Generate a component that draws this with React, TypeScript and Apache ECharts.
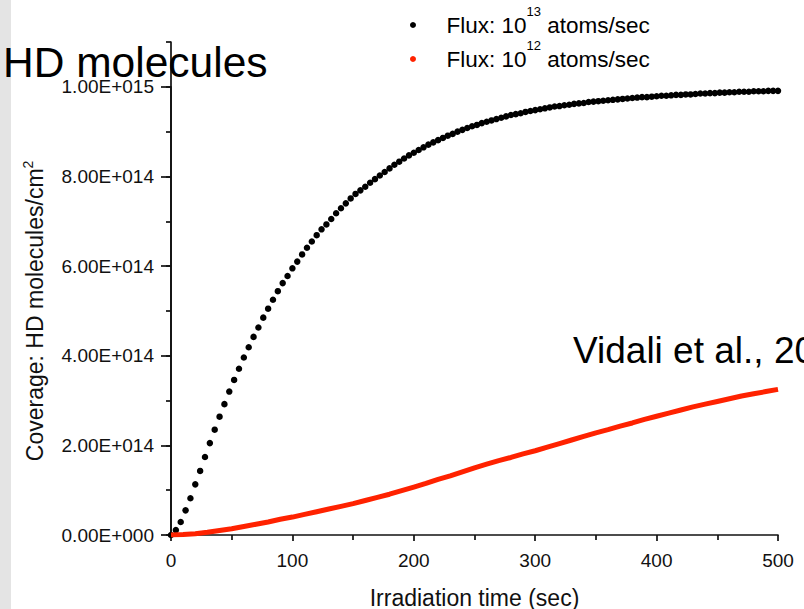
import React, { useEffect, useRef } from 'react';
import * as echarts from 'echarts';

// Units: coverage in 1e14 HD molecules/cm^2, time in seconds
const UNIT = 1e14;

const blackTime = [
  0, 4, 8, 12, 16, 20, 24, 28, 32, 36,
  40, 44, 48, 52, 56, 60, 64, 68, 72, 76,
  80, 84, 88, 92, 96, 100, 104, 108, 112, 116,
  120, 124, 128, 132, 136, 140, 144, 148, 152, 156,
  160, 164, 168, 172, 176, 180, 184, 188, 192, 196,
  200, 204, 208, 212, 216, 220, 224, 228, 232, 236,
  240, 244, 248, 252, 256, 260, 264, 268, 272, 276,
  280, 284, 288, 292, 296, 300, 304, 308, 312, 316,
  320, 324, 328, 332, 336, 340, 344, 348, 352, 356,
  360, 364, 368, 372, 376, 380, 384, 388, 392, 396,
  400, 404, 408, 412, 416, 420, 424, 428, 432, 436,
  440, 444, 448, 452, 456, 460, 464, 468, 472, 476,
  480, 484, 488, 492, 496, 500,
];

const blackCoverage = [
  0, 0.11, 0.29, 0.55, 0.82, 1.13, 1.43, 1.74, 2.05, 2.35,
  2.64, 2.92, 3.2, 3.46, 3.71, 3.96, 4.19, 4.42, 4.63, 4.85,
  5.05, 5.25, 5.44, 5.62, 5.78, 5.95, 6.1, 6.26, 6.41, 6.55,
  6.69, 6.82, 6.93, 7.05, 7.18, 7.29, 7.4, 7.51, 7.61, 7.69,
  7.77, 7.86, 7.94, 8.02, 8.1, 8.18, 8.26, 8.33, 8.4, 8.47,
  8.53, 8.59, 8.65, 8.71, 8.76, 8.81, 8.86, 8.91, 8.95, 9.0,
  9.04, 9.08, 9.12, 9.15, 9.19, 9.22, 9.25, 9.28, 9.31, 9.34,
  9.37, 9.39, 9.41, 9.44, 9.46, 9.48, 9.5, 9.52, 9.54, 9.56,
  9.57, 9.59, 9.6, 9.62, 9.63, 9.64, 9.66, 9.67, 9.68, 9.69,
  9.7, 9.71, 9.72, 9.73, 9.74, 9.75, 9.76, 9.77, 9.77, 9.78,
  9.79, 9.8, 9.8, 9.81, 9.82, 9.82, 9.83, 9.83, 9.84, 9.85,
  9.85, 9.86, 9.86, 9.87, 9.87, 9.88, 9.88, 9.89, 9.89, 9.89,
  9.9, 9.9, 9.9, 9.91, 9.91, 9.91,
];

const redTime = [
  0, 10, 20, 30, 40, 50, 60, 70, 80, 90,
  100, 110, 120, 130, 140, 150, 160, 170, 180, 190,
  200, 210, 220, 230, 240, 250, 260, 270, 280, 290,
  300, 310, 320, 330, 340, 350, 360, 370, 380, 390,
  400, 410, 420, 430, 440, 450, 460, 470, 480, 490, 500,
];

const redCoverage = [
  0, 0.01, 0.03, 0.06, 0.1, 0.14, 0.19, 0.24, 0.29, 0.35,
  0.4, 0.46, 0.52, 0.58, 0.64, 0.7, 0.77, 0.84, 0.91, 0.99,
  1.07, 1.15, 1.24, 1.32, 1.41, 1.5, 1.58, 1.66, 1.73, 1.81,
  1.88, 1.96, 2.04, 2.12, 2.2, 2.28, 2.35, 2.43, 2.5, 2.58,
  2.65, 2.72, 2.79, 2.86, 2.92, 2.98, 3.04, 3.1, 3.15, 3.2, 3.25,
];

const SERIES_13 = 'Flux: 10^13 atoms/sec';
const SERIES_12 = 'Flux: 10^12 atoms/sec';
const legendLabels: Record<string, string> = {
  [SERIES_13]: '{n|Flux: 10}{s|13}{n| atoms/sec}',
  [SERIES_12]: '{n|Flux: 10}{s|12}{n| atoms/sec}',
};

const TITLE = 'HD molecules';
const CITATION = 'Vidali et al., 20';
const X_NAME = 'Irradiation time (sec)';
const Y_NAME = '{a|Coverage: HD molecules/cm}{b|2}';

const FONT = '"Liberation Sans", Arial, Helvetica, sans-serif';
const AXIS_COLOR = '#111';

function sciLabel(v: number): string {
  const [m, e] = v.toExponential(2).split('e');
  const sign = e[0] === '-' ? '-' : '+';
  const digits = e.replace(/^[-+]/, '').padStart(3, '0');
  return `${m}E${sign}${digits}`;
}

export default function App() {
  const ref = useRef<HTMLDivElement>(null);

  useEffect(() => {
    if (!ref.current) return;
    const chart = echarts.init(ref.current, undefined, { renderer: 'svg' });

    const blackData = blackTime.map((t, i) => [t, blackCoverage[i] * UNIT]);
    const redData = redTime.map((t, i) => [t, redCoverage[i] * UNIT]);

    const lineStyle = { color: AXIS_COLOR, width: 1.7 };

    const option: any = {
      animation: false,
      backgroundColor: '#ffffff',
      title: {
        text: TITLE,
        left: 3,
        top: 41,
        padding: 0,
        textStyle: { fontFamily: FONT, fontSize: 42.5, fontWeight: 'normal', color: '#000' },
        z: 10,
      },
      legend: {
        orient: 'vertical',
        left: 410,
        top: 4.5,
        padding: 0,
        itemGap: 2,
        itemWidth: 57,
        itemHeight: 6,
        selectedMode: false,
        data: [
          { name: SERIES_13, icon: 'circle' },
          { name: SERIES_12, icon: 'circle' },
        ],
        formatter: (name: string) => legendLabels[name],
        textStyle: {
          fontFamily: FONT,
          color: '#000',
          rich: {
            n: { fontFamily: FONT, fontSize: 22.5, lineHeight: 41, color: '#000' },
            s: { fontFamily: FONT, fontSize: 13, lineHeight: 1, verticalAlign: 'top', color: '#000' },
          },
        },
      },
      grid: [
        { left: 171, right: 26, top: 42, bottom: 74, outerBoundsMode: 'none', containLabel: false },
        { left: 171, right: 26, top: 86.8, bottom: 74, outerBoundsMode: 'none', containLabel: false },
      ],
      xAxis: [
        {
          type: 'value',
          gridIndex: 0,
          min: 0,
          max: 500,
          interval: 100,
          name: X_NAME,
          nameLocation: 'middle',
          nameGap: 51,
          nameTextStyle: { fontFamily: FONT, fontSize: 23, color: '#111' },
          axisLine: { show: true, lineStyle },
          axisTick: { show: true, length: 6, lineStyle },
          minorTick: { show: true, splitNumber: 2, length: 5, lineStyle },
          splitLine: { show: false },
          minorSplitLine: { show: false },
          axisLabel: { margin: 16, fontFamily: FONT, fontSize: 19, color: '#111' },
        },
        { type: 'value', gridIndex: 1, min: 0, max: 500, show: false },
      ],
      yAxis: [
        {
          type: 'value',
          gridIndex: 0,
          min: 0,
          max: 11 * UNIT,
          interval: UNIT,
          axisLine: { show: true, lineStyle },
          axisTick: { show: true, length: 5, lineStyle },
          axisLabel: { show: false },
          splitLine: { show: false },
        },
        {
          type: 'value',
          gridIndex: 1,
          min: 0,
          max: 10 * UNIT,
          interval: 2 * UNIT,
          axisLine: { show: true, lineStyle },
          axisTick: { show: true, length: 10, lineStyle },
          splitLine: { show: false },
          axisLabel: {
            margin: 17,
            fontFamily: FONT,
            fontSize: 19,
            color: '#111',
            formatter: (v: number) => sciLabel(v),
          },
          name: Y_NAME,
          nameLocation: 'middle',
          nameGap: 122,
          nameTextStyle: {
            fontFamily: FONT,
            color: '#111',
            rich: {
              a: { fontFamily: FONT, fontSize: 23, lineHeight: 28, color: '#111' },
              b: { fontFamily: FONT, fontSize: 14, lineHeight: 10, verticalAlign: 'top', color: '#111' },
            },
          },
        },
      ],
      series: [
        {
          name: SERIES_13,
          type: 'scatter',
          xAxisIndex: 0,
          yAxisIndex: 0,
          symbol: 'circle',
          symbolSize: 6.5,
          itemStyle: { color: '#000', opacity: 1 },
          data: blackData,
          z: 3,
        },
        {
          name: SERIES_12,
          type: 'line',
          xAxisIndex: 0,
          yAxisIndex: 0,
          showSymbol: false,
          symbol: 'circle',
          lineStyle: { color: '#ff2200', width: 5 },
          itemStyle: { color: '#ff2200' },
          data: redData,
          z: 4,
        },
      ],
      graphic: [
        {
          type: 'rect',
          left: 0,
          top: 0,
          shape: { width: 11, height: 609 },
          style: { fill: '#e4e4e4' },
          z: 0,
        },
        {
          type: 'text',
          x: 573,
          y: 350,
          style: {
            text: CITATION,
            fontFamily: FONT,
            fontSize: 37,
            fill: '#000',
            verticalAlign: 'middle',
          },
          z: 10,
        },
      ],
    };

    chart.setOption(option);
    return () => chart.dispose();
  }, []);

  return (
    <div
      ref={ref}
      style={{ position: 'absolute', left: 0, top: 0, width: 804, height: 609 }}
    />
  );
}
